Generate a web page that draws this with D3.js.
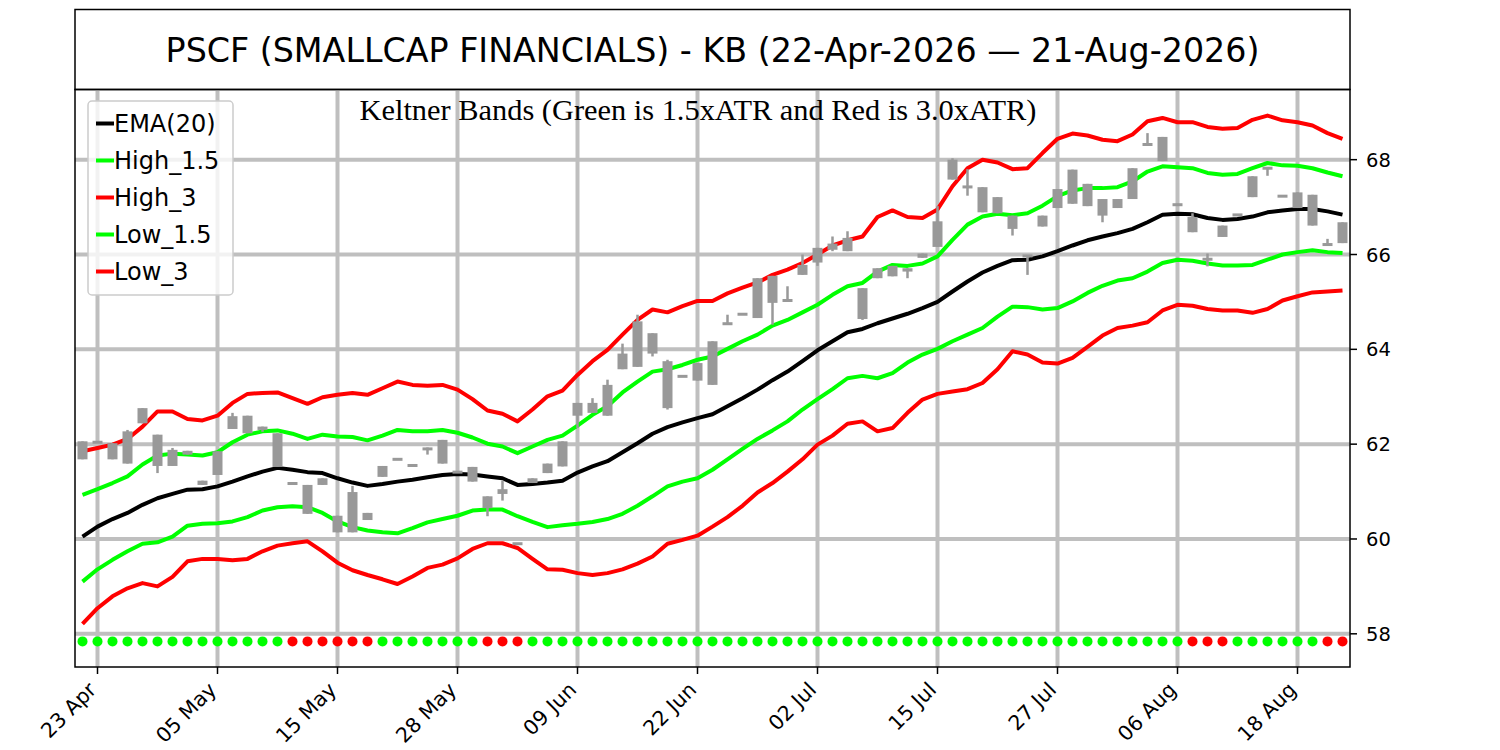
<!DOCTYPE html>
<html>
<head>
<meta charset="utf-8">
<script src="https://cdn.jsdelivr.net/npm/d3@7"></script>
<style>
  body { margin: 0; background: #fff; }
  svg { display: block; }
</style>
</head>
<body>
<div id="chart"></div>
<script>
// trading days 22 Apr 2026 .. 21 Aug 2026 (US market holidays skipped)
const dates = [
  "2026-04-22","2026-04-23","2026-04-24","2026-04-27","2026-04-28","2026-04-29","2026-04-30","2026-05-01",
  "2026-05-04","2026-05-05","2026-05-06","2026-05-07","2026-05-08","2026-05-11","2026-05-12","2026-05-13",
  "2026-05-14","2026-05-15","2026-05-18","2026-05-19","2026-05-20","2026-05-21","2026-05-22","2026-05-26",
  "2026-05-27","2026-05-28","2026-05-29","2026-06-01","2026-06-02","2026-06-03","2026-06-04","2026-06-05",
  "2026-06-08","2026-06-09","2026-06-10","2026-06-11","2026-06-12","2026-06-15","2026-06-16","2026-06-17",
  "2026-06-18","2026-06-22","2026-06-23","2026-06-24","2026-06-25","2026-06-26","2026-06-29","2026-06-30",
  "2026-07-01","2026-07-02","2026-07-06","2026-07-07","2026-07-08","2026-07-09","2026-07-10","2026-07-13",
  "2026-07-14","2026-07-15","2026-07-16","2026-07-17","2026-07-20","2026-07-21","2026-07-22","2026-07-23",
  "2026-07-24","2026-07-27","2026-07-28","2026-07-29","2026-07-30","2026-07-31","2026-08-03","2026-08-04",
  "2026-08-05","2026-08-06","2026-08-07","2026-08-10","2026-08-11","2026-08-12","2026-08-13","2026-08-14",
  "2026-08-17","2026-08-18","2026-08-19","2026-08-20","2026-08-21"
];

const openPx = [
  62.06,62.05,62.02,62.27,62.76,62.20,61.88,61.86,61.23,61.85,62.59,62.60,62.37,62.23,61.18,61.14,
  61.28,60.49,60.99,60.55,61.54,61.69,61.56,61.93,62.09,61.42,61.52,60.90,61.05,59.91,61.28,61.59,
  62.06,62.87,62.87,63.25,63.91,64.59,64.34,63.75,63.44,63.71,64.17,64.55,64.75,65.50,65.55,65.04,
  65.78,66.14,66.23,66.35,65.29,65.71,65.76,65.71,66.02,66.70,68.00,67.45,67.42,67.21,66.82,65.99,
  66.82,67.38,67.79,67.49,67.17,67.17,67.82,68.33,68.48,67.07,66.79,65.91,66.61,66.85,67.65,67.83,
  67.24,67.31,67.26,66.22,66.68
];
const closePx = [
  61.68,62.03,61.68,61.59,62.44,61.54,61.54,61.78,61.14,61.35,62.32,62.23,62.30,61.52,61.16,60.53,
  61.14,60.14,60.14,60.40,61.31,61.67,61.54,61.87,61.59,61.40,61.21,60.65,60.95,59.89,61.18,61.39,
  61.53,62.60,62.66,62.60,63.58,63.63,63.91,62.76,63.42,63.34,63.25,64.53,64.73,64.66,64.98,65.02,
  65.57,65.83,66.10,66.07,64.64,65.50,65.54,65.64,65.93,66.16,67.58,67.40,66.89,66.87,66.54,65.95,
  66.59,66.98,67.07,67.02,66.82,66.98,67.17,68.31,67.97,67.03,66.47,65.89,66.37,66.82,67.21,67.81,
  67.22,66.98,66.61,66.20,66.24
];
const highPx = [
  62.06,62.05,62.02,62.30,62.76,62.20,61.92,61.86,61.23,61.85,62.66,62.60,62.37,62.23,61.18,61.14,
  61.28,60.49,61.12,60.55,61.54,61.69,61.56,61.93,62.09,61.42,61.52,60.90,61.23,59.91,61.28,61.59,
  62.06,62.87,62.97,63.36,64.12,64.73,64.34,63.78,63.44,63.71,64.17,64.73,64.75,65.50,65.55,65.33,
  66.00,66.14,66.38,66.49,65.29,65.71,65.76,65.71,66.02,67.02,68.03,67.80,67.42,67.21,66.82,65.99,
  66.82,67.38,67.79,67.49,67.17,67.17,67.82,68.56,68.48,67.07,66.87,66.02,66.61,66.85,67.65,67.83,
  67.24,67.31,67.26,66.33,66.68
];
const lowPx = [
  61.68,62.03,61.68,61.59,62.44,61.39,61.54,61.78,61.14,61.35,62.32,62.23,62.26,61.52,61.16,60.53,
  61.14,60.14,60.14,60.40,61.31,61.67,61.54,61.78,61.59,61.40,61.21,60.48,60.81,59.89,61.18,61.39,
  61.53,62.34,62.66,62.60,63.58,63.63,63.85,62.73,63.42,63.34,63.25,64.53,64.73,64.66,64.52,65.02,
  65.57,65.76,66.07,66.07,64.62,65.50,65.54,65.50,65.93,66.16,67.58,67.24,66.89,66.87,66.40,65.57,
  66.59,66.98,67.07,67.02,66.68,66.98,67.17,68.31,67.97,67.03,66.47,65.75,66.37,66.82,67.21,67.66,
  67.22,66.98,66.61,66.20,66.24
];

const ema20 = [
  60.05,60.26,60.42,60.55,60.72,60.86,60.95,61.04,61.05,61.11,61.21,61.32,61.42,61.50,61.46,61.41,
  61.39,61.28,61.19,61.12,61.16,61.21,61.25,61.30,61.35,61.37,61.36,61.32,61.28,61.14,61.16,61.19,
  61.23,61.40,61.53,61.64,61.83,62.02,62.22,62.36,62.46,62.55,62.63,62.80,62.97,63.15,63.35,63.53,
  63.75,63.98,64.17,64.36,64.43,64.55,64.65,64.75,64.87,65.00,65.22,65.43,65.62,65.76,65.88,65.89,
  65.96,66.07,66.19,66.30,66.38,66.45,66.54,66.68,66.84,66.86,66.85,66.77,66.73,66.75,66.80,66.89,
  66.93,66.96,66.96,66.91,66.84
];
const high15 = [
  60.93,61.05,61.18,61.32,61.57,61.76,61.80,61.78,61.76,61.83,62.04,62.20,62.27,62.29,62.22,62.11,
  62.20,62.16,62.15,62.08,62.18,62.30,62.27,62.27,62.30,62.24,62.14,62.01,61.95,61.81,61.95,62.09,
  62.18,62.39,62.62,62.80,63.09,63.32,63.53,63.58,63.67,63.78,63.85,64.01,64.17,64.31,64.50,64.62,
  64.78,64.94,65.15,65.33,65.40,65.64,65.78,65.76,65.81,65.96,66.31,66.63,66.80,66.86,66.83,66.87,
  67.03,67.23,67.35,67.40,67.40,67.42,67.54,67.75,67.86,67.84,67.82,67.72,67.68,67.70,67.82,67.93,
  67.88,67.87,67.82,67.73,67.65
];
const high3 = [
  61.85,61.92,61.99,62.11,62.37,62.69,62.69,62.53,62.50,62.60,62.87,63.06,63.08,63.09,62.97,62.85,
  62.99,63.04,63.08,63.04,63.18,63.32,63.25,63.23,63.25,63.15,62.95,62.71,62.64,62.48,62.73,63.01,
  63.13,63.46,63.75,63.99,64.31,64.62,64.84,64.78,64.91,65.02,65.02,65.18,65.30,65.41,65.57,65.68,
  65.82,66.00,66.19,66.30,66.38,66.79,66.93,66.79,66.77,66.95,67.44,67.82,68.00,67.94,67.80,67.82,
  68.14,68.44,68.55,68.51,68.42,68.39,68.53,68.81,68.88,68.79,68.79,68.69,68.65,68.67,68.84,68.93,
  68.83,68.79,68.72,68.56,68.44
];
const low15 = [
  59.10,59.36,59.56,59.74,59.90,59.93,60.05,60.28,60.32,60.33,60.37,60.46,60.60,60.67,60.69,60.67,
  60.55,60.37,60.25,60.18,60.14,60.12,60.23,60.35,60.42,60.49,60.60,60.62,60.62,60.48,60.36,60.25,
  60.29,60.32,60.36,60.42,60.53,60.70,60.90,61.11,61.21,61.28,61.46,61.68,61.90,62.11,62.29,62.48,
  62.73,62.95,63.16,63.39,63.44,63.39,63.50,63.72,63.89,64.01,64.17,64.31,64.45,64.69,64.90,64.89,
  64.84,64.87,65.01,65.19,65.34,65.45,65.50,65.64,65.82,65.89,65.87,65.81,65.77,65.77,65.78,65.89,
  66.00,66.05,66.09,66.05,66.03
];
const low3 = [
  58.21,58.54,58.79,58.96,59.07,59.00,59.20,59.53,59.58,59.58,59.55,59.58,59.74,59.86,59.91,59.95,
  59.74,59.50,59.34,59.24,59.15,59.05,59.21,59.39,59.46,59.59,59.79,59.91,59.91,59.81,59.58,59.36,
  59.35,59.28,59.24,59.28,59.36,59.48,59.63,59.90,59.98,60.07,60.26,60.46,60.70,60.98,61.18,61.42,
  61.68,61.99,62.18,62.43,62.48,62.27,62.34,62.66,62.94,63.06,63.11,63.16,63.29,63.58,63.96,63.89,
  63.72,63.70,63.82,64.05,64.29,64.45,64.50,64.57,64.82,64.94,64.92,64.85,64.82,64.82,64.77,64.85,
  65.03,65.12,65.20,65.22,65.24
];

// squeeze dots along the bottom: 1 = green, 0 = red
const signal = [
  1,1,1,1,1,1,1,1,1,1,1,1,1,1,0,0,0,0,0,0,1,1,1,1,1,1,1,0,0,0,
  1,1,1,1,1,1,1,1,1,1,1,1,1,1,1,1,1,1,1,1,1,1,1,1,1,1,1,1,1,1,
  1,1,1,1,1,1,1,1,1,1,1,1,1,1,0,0,0,1,1,1,1,1,1,0,0
];
const signalLevel = 57.84;

const yTicks = [58, 60, 62, 64, 66, 68];
const xTickIdx = [1, 9, 17, 25, 33, 41, 49, 57, 65, 73, 81];

const series = [
  { name: "EMA(20)", values: ema20, color: "#000000" },
  { name: "High_1.5", values: high15, color: "#00ff00" },
  { name: "High_3", values: high3, color: "#ff0000" },
  { name: "Low_1.5", values: low15, color: "#00ff00" },
  { name: "Low_3", values: low3, color: "#ff0000" }
];

const W = 1500, H = 750;
const m = { left: 75, right: 1350, top: 89.5, bottom: 667 };

const svg = d3.select("#chart").append("svg")
  .attr("width", W)
  .attr("height", H);

const parse = d3.timeParse("%Y-%m-%d");
const fmt = d3.timeFormat("%d %b");

const x = d3.scaleLinear().domain([-0.5, dates.length - 0.5]).range([m.left, m.right]);
const y = d3.scaleLinear().domain([57.30, 69.48]).range([m.bottom, m.top]);

// title box
svg.append("rect")
  .attr("x", m.left).attr("y", 9.5)
  .attr("width", m.right - m.left).attr("height", m.top - 9.5)
  .attr("fill", "none").attr("stroke", "#000").attr("stroke-width", 1.5);

svg.append("text")
  .attr("x", (m.left + m.right) / 2).attr("y", 62)
  .attr("text-anchor", "middle")
  .style("font-family", "DejaVu Sans")
  .style("font-size", "33.3px")
  .text("PSCF (SMALLCAP FINANCIALS) - KB (22-Apr-2026 \u2014 21-Aug-2026)");

const plot = svg.append("g");

plot.append("defs").append("clipPath").attr("id", "clip")
  .append("rect").attr("x", m.left).attr("y", m.top)
  .attr("width", m.right - m.left).attr("height", m.bottom - m.top);

// grid
const grid = plot.append("g").attr("stroke", "#bfbfbf").attr("stroke-width", 4);
grid.selectAll(".gy").data(yTicks).enter().append("line")
  .attr("x1", m.left).attr("x2", m.right)
  .attr("y1", d => y(d)).attr("y2", d => y(d));
grid.selectAll(".gx").data(xTickIdx).enter().append("line")
  .attr("x1", d => x(d)).attr("x2", d => x(d))
  .attr("y1", m.top).attr("y2", m.bottom);

// bands and ema
const line = d3.line()
  .x((d, i) => x(i))
  .y(d => y(d));

const lines = plot.append("g").attr("clip-path", "url(#clip)");
lines.selectAll("path").data(series).enter().append("path")
  .attr("d", d => line(d.values))
  .attr("fill", "none")
  .attr("stroke", d => d.color)
  .attr("stroke-width", 4)
  .attr("stroke-linejoin", "round");

// candles
const candleColor = "#999999";
const candles = plot.append("g");
candles.selectAll(".wick").data(dates).enter().append("line")
  .attr("x1", (d, i) => x(i)).attr("x2", (d, i) => x(i))
  .attr("y1", (d, i) => y(highPx[i])).attr("y2", (d, i) => y(lowPx[i]))
  .attr("stroke", candleColor).attr("stroke-width", 2.5);
candles.selectAll(".body").data(dates).enter().append("rect")
  .attr("x", (d, i) => x(i) - 5)
  .attr("width", 10)
  .attr("y", (d, i) => {
    const t = y(Math.max(openPx[i], closePx[i])), b = y(Math.min(openPx[i], closePx[i]));
    return b - t < 3 ? (t + b) / 2 - 1.5 : t;
  })
  .attr("height", (d, i) => Math.max(3, y(Math.min(openPx[i], closePx[i])) - y(Math.max(openPx[i], closePx[i]))))
  .attr("fill", candleColor);

// squeeze dots
plot.append("g").selectAll("circle").data(signal).enter().append("circle")
  .attr("cx", (d, i) => x(i))
  .attr("cy", y(signalLevel))
  .attr("r", 5)
  .attr("fill", d => d ? "#00ff00" : "#ff0000");

// frame
svg.append("rect")
  .attr("x", m.left).attr("y", m.top)
  .attr("width", m.right - m.left).attr("height", m.bottom - m.top)
  .attr("fill", "none").attr("stroke", "#000").attr("stroke-width", 1.5);

// right y axis
const yAxis = svg.append("g").attr("transform", `translate(${m.right},0)`);
yAxis.selectAll("line").data(yTicks).enter().append("line")
  .attr("x1", 0).attr("x2", 7)
  .attr("y1", d => y(d)).attr("y2", d => y(d))
  .attr("stroke", "#000").attr("stroke-width", 1.5);
yAxis.selectAll("text").data(yTicks).enter().append("text")
  .attr("x", 16).attr("y", d => y(d))
  .attr("dy", "0.36em")
  .style("font-family", "DejaVu Sans")
  .style("font-size", "19.5px")
  .text(d => d);

// bottom x axis
const xAxis = svg.append("g").attr("transform", `translate(0,${m.bottom})`);
xAxis.selectAll("line").data(xTickIdx).enter().append("line")
  .attr("x1", d => x(d)).attr("x2", d => x(d))
  .attr("y1", 0).attr("y2", 7)
  .attr("stroke", "#000").attr("stroke-width", 1.5);
xAxis.selectAll("text").data(xTickIdx).enter().append("text")
  .attr("transform", d => `translate(${x(d) - 5},${19}) rotate(-45)`)
  .attr("text-anchor", "end")
  .attr("dy", "0.35em")
  .style("font-family", "DejaVu Sans")
  .style("font-size", "20.5px")
  .text(d => fmt(parse(dates[d])));

// subtitle
svg.append("text")
  .attr("x", 698).attr("y", 120)
  .attr("text-anchor", "middle")
  .style("font-family", "Liberation Serif")
  .style("font-size", "30.4px")
  .text("Keltner Bands (Green is 1.5xATR and Red is 3.0xATR)");

// legend
const legend = svg.append("g");
legend.append("rect")
  .attr("x", 88).attr("y", 101)
  .attr("width", 145).attr("height", 194)
  .attr("rx", 4)
  .attr("fill", "#fff").attr("fill-opacity", 0.8)
  .attr("stroke", "#cccccc").attr("stroke-width", 1.5);
const item = legend.selectAll(".item").data(series).enter().append("g")
  .attr("transform", (d, i) => `translate(96,${123.5 + i * 37})`);
item.append("line")
  .attr("x1", 0).attr("x2", 18)
  .attr("stroke", d => d.color).attr("stroke-width", 4);
item.append("text")
  .attr("x", 18).attr("dy", "0.36em")
  .style("font-family", "DejaVu Sans")
  .style("font-size", "24px")
  .text(d => d.name);
</script>
</body>
</html>
